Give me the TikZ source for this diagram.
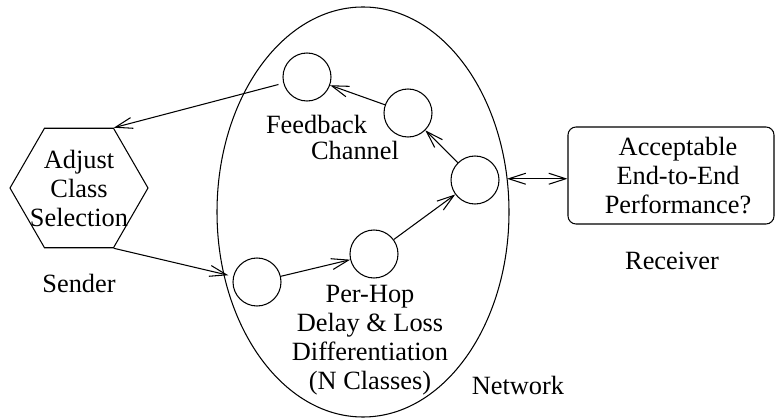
\documentclass[tikz,border=0pt]{standalone}
\usepackage{fontspec}
\setmainfont{Liberation Serif}
\usetikzlibrary{arrows.meta,shapes.geometric}
\tikzset{
  hop/.style={draw, circle, minimum size=0.96cm, inner sep=0pt},
  txt/.style={align=center, font=\fontsize{15}{16.5}\selectfont, inner sep=0pt},
  >={Straight Barb[length=3.4mm,width=2.2mm]}
}
\begin{document}
\begin{tikzpicture}[line width=0.6pt]
      \useasboundingbox (0,0) rectangle (15.5,8.34);
      \node[draw, ellipse, minimum width=5.84cm, minimum height=8.2cm,
        inner sep=0pt, outer sep=0pt] (net) at (7.26,4.10) {};
      \node[draw, regular polygon, regular polygon sides=6, minimum size=2.76cm,
        inner sep=0pt, label={[txt]center:Adjust\\Class\\Selection}] (adjust) at (1.58,4.58) {};
      \node[draw, rounded corners=0.16cm, minimum width=4.12cm, minimum height=1.94cm,
        txt] (accept) at (13.42,4.83) {\hspace*{0.28cm}Acceptable\\\hspace*{0.28cm}End-to-End\\\hspace*{0.28cm}Performance?};
      \draw
        (6.14,6.80) node[hop] (h1){}
        (8.16,6.08) node[hop] (h2){}
        (9.50,4.74) node[hop] (h3){}
        (7.48,3.26) node[hop] (h4){}
        (5.14,2.70) node[hop] (h5){};
      \node[txt, align=left] (feedback) at (6.65,5.59) {Feedback\\[-2pt]\hspace*{0.9cm}Channel};
      \node[txt] (perhop) at (7.40,1.54) {Per-Hop\\Delay \& Loss\\Differentiation\\(N Classes)};
      \node[txt] (sender) at (1.58,2.68) {Sender};
      \node[txt] (receiver) at (13.44,3.12) {Receiver};
      \node[txt] (network) at (10.36,0.64) {Network};
      \begin{scope}[->]
        \draw[shorten <=0.1cm] (h1) to (adjust.60);
        \draw[shorten >=0.1cm] (adjust.-60) to (h5);
        \draw (h5) to (h4);
        \draw (h4) to (h3);
        \draw (h3) to (h2);
        \draw (h2) to (h1);
        \draw[<->] (net.13) to (net.13 -| accept.west);
      \end{scope}
    \end{tikzpicture}
\end{document}
